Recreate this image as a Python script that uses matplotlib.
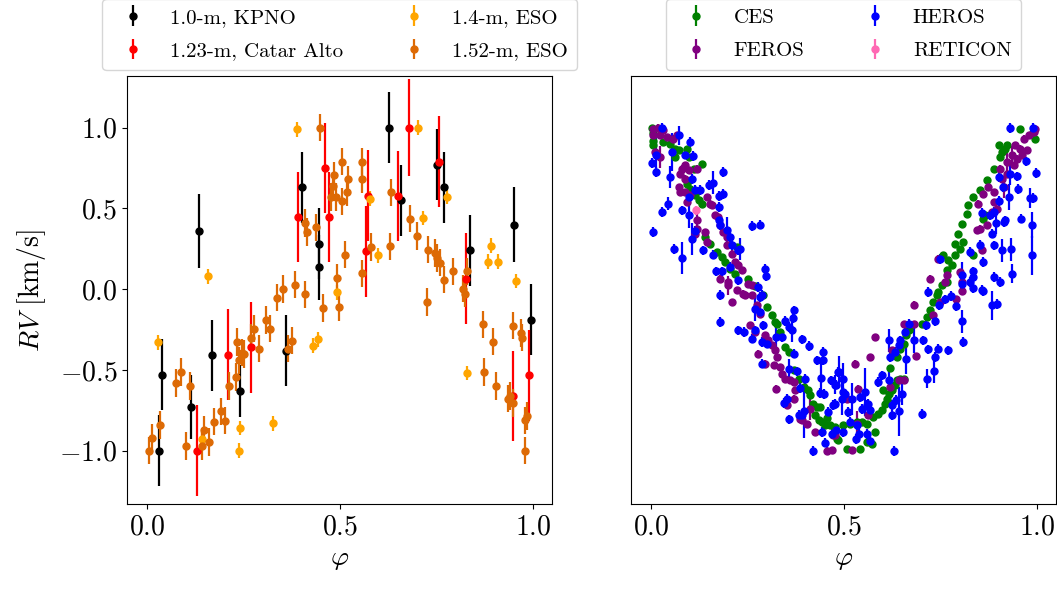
import numpy as np
import matplotlib
matplotlib.use("Agg")
import matplotlib.pyplot as plt

plt.rcParams["font.family"] = "serif"
plt.rcParams["font.serif"] = ["cmr10"]
plt.rcParams["mathtext.fontset"] = "cm"
plt.rcParams["axes.formatter.use_mathtext"] = True

# ---- left panel: photometric-era telescopes ----
kpno_phase = [0.032, 0.038, 0.114, 0.134, 0.168, 0.240, 0.360, 0.400, 0.444, 0.444,
              0.627, 0.657, 0.752, 0.768, 0.837, 0.951, 0.995]
kpno_rv = [-1.00, -0.53, -0.73, 0.36, -0.41, -0.63, -0.38, 0.63, 0.28, 0.135,
           1.00, 0.55, 0.77, 0.63, 0.24, 0.40, -0.19]
kpno_err = [0.22, 0.22, 0.20, 0.23, 0.22, 0.16, 0.22, 0.22, 0.22, 0.20,
            0.22, 0.22, 0.22, 0.22, 0.22, 0.23, 0.22]

caha_phase = [0.129, 0.210, 0.269, 0.392, 0.460, 0.472, 0.567, 0.571, 0.649, 0.679,
              0.756, 0.826, 0.949, 0.988]
caha_rv = [-1.00, -0.405, -0.36, 0.447, 0.75, 0.447, 0.234, 0.58, 0.577, 1.00,
           0.79, 0.065, -0.66, -0.534]
caha_err = [0.28, 0.28, 0.28, 0.28, 0.28, 0.28, 0.28, 0.28, 0.28, 0.30,
            0.28, 0.28, 0.28, 0.28]

eso14_phase = [0.028, 0.143, 0.158, 0.238, 0.240, 0.326, 0.389, 0.430, 0.443, 0.491,
               0.578, 0.597, 0.702, 0.714, 0.776, 0.828, 0.883, 0.890, 0.909, 0.955]
eso14_rv = [-0.33, -0.93, 0.08, -1.00, -0.86, -0.83, 0.99, -0.35, -0.31, -0.02,
            0.56, 0.21, 1.00, 0.44, 0.57, -0.52, 0.17, 0.27, 0.17, 0.05]
eso14_err = [0.045] * len(eso14_phase)

eso152_phase = [0.006, 0.012, 0.034, 0.075, 0.088, 0.110, 0.101, 0.141, 0.148, 0.160,
                0.174, 0.192, 0.201, 0.213, 0.230, 0.232, 0.238, 0.245, 0.251, 0.269,
                0.278, 0.291, 0.308, 0.319, 0.337, 0.352, 0.382, 0.410, 0.455, 0.375,
                0.366, 0.498, 0.448, 0.483, 0.481, 0.477, 0.489, 0.408, 0.415, 0.437,
                0.493, 0.506, 0.557, 0.557, 0.521, 0.518, 0.506, 0.632, 0.681, 0.698,
                0.727, 0.746, 0.752, 0.758, 0.770, 0.792, 0.828, 0.818, 0.513, 0.580,
                0.628, 0.557, 0.726, 0.823, 0.871, 0.897, 0.948, 0.969, 0.971, 0.873,
                0.903, 0.934, 0.940, 0.947, 0.980, 0.985, 0.978]
eso152_rv = [-1.00, -0.92, -0.84, -0.58, -0.513, -0.598, -0.97, -0.97, -0.87, -0.946,
             -0.82, -0.757, -0.814, -0.598, -0.544, -0.327, -0.44, -0.393, -0.40, -0.30,
             -0.245, -0.368, -0.19, -0.245, -0.053, 0.00, 0.028, -0.032, -0.116, -0.319,
             -0.368, -0.113, 1.00, 0.705, 0.64, 0.57, 0.57, 0.41, 0.354, 0.383,
             0.071, 0.79, 0.79, 0.68, 0.68, 0.60, 0.544, 0.60, 0.436, 0.33,
             0.245, 0.224, 0.193, 0.164, 0.059, 0.11, 0.11, 0.003, 0.214, 0.261,
             0.265, 0.098, -0.08, -0.028, -0.218, -0.325, -0.226, -0.271, -0.30, -0.513,
             -0.598, -0.678, -0.66, -0.705, -0.812, -0.785, -1.00]
eso152_err = [0.085] * len(eso152_phase)

# ---- right panel: spectrograph data ----
ces_phase = [0.002, 0.006, 0.004, 0.004, 0.032, 0.049, 0.062, 0.071, 0.062, 0.092,
             0.097, 0.110, 0.131, 0.092, 0.101, 0.114, 0.123, 0.131, 0.140, 0.153,
             0.170, 0.183, 0.192, 0.205, 0.218, 0.222, 0.250, 0.270, 0.291, 0.300,
             0.313, 0.321, 0.326, 0.334, 0.347, 0.356, 0.369, 0.382, 0.395, 0.407,
             0.412, 0.420, 0.429, 0.438, 0.425, 0.434, 0.442, 0.451, 0.464, 0.477,
             0.481, 0.455, 0.498, 0.516, 0.533, 0.546, 0.559, 0.576, 0.580, 0.559,
             0.541, 0.507, 0.485, 0.572, 0.589, 0.598, 0.606, 0.611, 0.615, 0.602,
             0.624, 0.632, 0.637, 0.645, 0.654, 0.619, 0.637, 0.645, 0.654, 0.661,
             0.667, 0.701, 0.714, 0.723, 0.731, 0.740, 0.744, 0.753, 0.766, 0.766,
             0.779, 0.788, 0.801, 0.809, 0.788, 0.796, 0.805, 0.818, 0.822, 0.835,
             0.852, 0.861, 0.870, 0.887, 0.904, 0.909, 0.917, 0.900, 0.922, 0.956,
             0.995, 0.986, 0.757, 0.770, 0.835, 0.865]
ces_rv = [1.00, 0.97, 0.92, 0.89, 0.91, 0.90, 0.87, 0.864, 0.82, 0.87,
          0.82, 0.746, 0.777, 0.653, 0.622, 0.581, 0.55, 0.53, 0.323, 0.282,
          0.23, 0.20, 0.168, 0.127, 0.096, 0.261, 0.06, 0.02, -0.038, -0.11,
          -0.162, -0.203, -0.214, -0.265, -0.358, -0.389, -0.503, -0.554, -0.606, -0.626,
          -0.657, -0.709, -0.729, -0.729, -0.781, -0.812, -0.822, -0.843, -0.843, -0.853,
          -0.926, -0.80, -0.843, -0.833, -0.822, -0.822, -0.833, -0.791, -0.884, -0.946,
          -0.988, -0.988, -0.936, -0.957, -0.771, -0.75, -0.709, -0.678, -0.647, -0.626,
          -0.626, -0.595, -0.565, -0.554, -0.554, -0.488, -0.42, -0.368, -0.337, -0.286,
          -0.255, -0.214, -0.172, -0.131, -0.079, -0.038, -0.017, 0.024, 0.045, 0.117,
          0.147, 0.21, 0.25, 0.292, 0.282, 0.344, 0.406, 0.467, 0.519, 0.571,
          0.612, 0.437, 0.674, 0.746, 0.818, 0.85, 0.87, 0.89, 0.89, 0.994,
          0.932, 0.963, 0.21, 0.178, 0.21, 0.457]
ces_err = [0.01] * len(ces_phase)

feros_phase = [0.006, 0.019, 0.032, 0.006, 0.023, 0.041, 0.058, 0.067, 0.010, 0.023,
               0.079, 0.075, 0.088, 0.097, 0.118, 0.088, 0.071, 0.075, 0.088, 0.092,
               0.101, 0.144, 0.153, 0.157, 0.166, 0.174, 0.118, 0.118, 0.114, 0.140,
               0.144, 0.179, 0.187, 0.196, 0.196, 0.209, 0.218, 0.226, 0.235, 0.179,
               0.200, 0.222, 0.244, 0.261, 0.261, 0.200, 0.209, 0.239, 0.252, 0.274,
               0.283, 0.256, 0.270, 0.295, 0.304, 0.313, 0.321, 0.326, 0.278, 0.295,
               0.319, 0.334, 0.339, 0.347, 0.360, 0.369, 0.373, 0.369, 0.352, 0.323,
               0.386, 0.390, 0.403, 0.412, 0.425, 0.455, 0.468, 0.472, 0.477, 0.507,
               0.520, 0.533, 0.537, 0.563, 0.567, 0.580, 0.528, 0.619, 0.641, 0.654,
               0.624, 0.654, 0.680, 0.687, 0.682, 0.731, 0.749, 0.762, 0.790, 0.805,
               0.723, 0.744, 0.766, 0.805, 0.801, 0.857, 0.844, 0.852, 0.870, 0.848,
               0.861, 0.874, 0.887, 0.887, 0.883, 0.896, 0.904, 0.909, 0.913, 0.922,
               0.935, 0.943, 0.956, 0.948, 0.960, 0.973, 0.978, 0.991, 0.995, 0.965,
               0.939, 0.922]
feros_rv = [0.994, 1.00, 0.983, 0.952, 0.952, 0.942, 0.932, 0.952, 0.85, 0.818,
            0.746, 0.715, 0.767, 0.736, 0.746, 0.684, 0.633, 0.602, 0.602, 0.54,
            0.581, 0.571, 0.53, 0.519, 0.457, 0.447, 0.426, 0.375, 0.344, 0.354,
            0.292, 0.395, 0.354, 0.323, 0.271, 0.22, 0.168, 0.147, 0.116, 0.065,
            0.045, -0.007, -0.038, -0.038, 0.024, 0.024, -0.079, -0.028, 0.034, -0.10,
            -0.152, -0.224, -0.265, -0.286, -0.317, -0.348, -0.379, -0.42, -0.399, -0.461,
            -0.472, -0.482, -0.523, -0.554, -0.565, -0.575, -0.626, -0.678, -0.719, -0.616,
            -0.802, -0.812, -0.833, -0.74, -0.884, -1.00, -0.998, -0.905, -0.905, -0.678,
            -0.998, -0.833, -0.616, -0.781, -0.42, -0.296, -0.461, -0.606, -0.565, -0.565,
            -0.379, -0.214, -0.214, -0.414, -0.096, -0.162, -0.079, 0.045, -0.063, -0.013,
            0.065, 0.189, 0.085, 0.045, 0.106, 0.24, 0.364, 0.375, 0.395, 0.53,
            0.591, 0.633, 0.602, 0.54, 0.478, 0.498, 0.746, 0.684, 0.633, 0.788,
            0.829, 0.89, 0.87, 0.808, 0.829, 0.86, 0.952, 0.973, 0.994, 0.932,
            0.767, 0.715]
feros_err = [0.02, 0.02, 0.02, 0.02, 0.02, 0.02, 0.02, 0.02, 0.02, 0.07,
             0.02, 0.02, 0.02, 0.02, 0.02, 0.02, 0.02, 0.02, 0.02, 0.02,
             0.02, 0.02, 0.02, 0.02, 0.02, 0.02, 0.05, 0.02, 0.02, 0.02,
             0.02, 0.02, 0.02, 0.02, 0.02, 0.02, 0.02, 0.02, 0.02, 0.02,
             0.02, 0.02, 0.02, 0.02, 0.02, 0.06, 0.02, 0.02, 0.02, 0.02,
             0.02, 0.02, 0.02, 0.02, 0.02, 0.02, 0.02, 0.02, 0.02, 0.02,
             0.02, 0.02, 0.02, 0.02, 0.02, 0.02, 0.02, 0.02, 0.02, 0.02,
             0.02, 0.02, 0.02, 0.07, 0.02, 0.02, 0.02, 0.02, 0.02, 0.02,
             0.02, 0.08, 0.02, 0.02, 0.02, 0.02, 0.02, 0.02, 0.02, 0.02,
             0.02, 0.02, 0.02, 0.02, 0.02, 0.02, 0.02, 0.02, 0.02, 0.02,
             0.02, 0.02, 0.02, 0.02, 0.02, 0.02, 0.02, 0.02, 0.02, 0.02,
             0.02, 0.02, 0.02, 0.02, 0.02, 0.02, 0.02, 0.02, 0.07, 0.06,
             0.06, 0.02, 0.02, 0.02, 0.02, 0.02, 0.02, 0.02, 0.02, 0.02,
             0.02, 0.02]

heros_phase = [0.028, 0.073, 0.101, 0.013, 0.002, 0.013, 0.054, 0.088, 0.108, 0.049,
               0.045, 0.028, 0.006, 0.079, 0.097, 0.097, 0.105, 0.114, 0.127, 0.149,
               0.161, 0.187, 0.177, 0.186, 0.177, 0.177, 0.179, 0.196, 0.205, 0.209,
               0.231, 0.226, 0.261, 0.282, 0.114, 0.105, 0.060, 0.081, 0.135, 0.161,
               0.295, 0.297, 0.168, 0.183, 0.205, 0.224, 0.179, 0.278, 0.287, 0.179,
               0.226, 0.241, 0.261, 0.269, 0.269, 0.282, 0.282, 0.291, 0.287, 0.300,
               0.287, 0.324, 0.339, 0.347, 0.356, 0.364, 0.369, 0.367, 0.390, 0.369,
               0.356, 0.378, 0.410, 0.429, 0.445, 0.446, 0.440, 0.465, 0.479, 0.438,
               0.448, 0.485, 0.399, 0.386, 0.352, 0.345, 0.397, 0.382, 0.390, 0.358,
               0.459, 0.472, 0.442, 0.451, 0.419, 0.468, 0.479, 0.477, 0.477, 0.488,
               0.498, 0.498, 0.503, 0.494, 0.511, 0.520, 0.514, 0.541, 0.554, 0.559,
               0.567, 0.563, 0.546, 0.533, 0.539, 0.531, 0.559, 0.566, 0.498, 0.628,
               0.589, 0.598, 0.615, 0.624, 0.624, 0.641, 0.635, 0.649, 0.619, 0.632,
               0.641, 0.645, 0.661, 0.615, 0.658, 0.667, 0.680, 0.701, 0.704, 0.712,
               0.718, 0.716, 0.714, 0.734, 0.736, 0.743, 0.736, 0.747, 0.762, 0.768,
               0.776, 0.790, 0.805, 0.809, 0.805, 0.834, 0.861, 0.896, 0.883, 0.904,
               0.930, 0.988, 0.971, 0.997, 0.949, 0.930, 0.900, 0.911, 0.950, 0.926,
               0.902, 0.982, 0.990, 0.857, 0.878, 0.887, 0.913, 0.917, 0.894, 0.959,
               0.986, 0.883, 0.852, 0.826, 0.887, 0.909, 0.932, 0.986, 0.859, 0.835,
               0.833, 0.887, 0.934, 0.805, 0.749, 0.826, 0.857]
heros_rv = [1.00, 0.952, 0.911, 0.833, 0.783, 0.725, 0.85, 0.833, 0.825, 0.695,
            0.53, 0.478, 0.354, 0.488, 0.571, 0.457, 0.684, 0.612, 0.612, 0.647,
            0.659, 0.725, 0.577, 0.591, 0.509, 0.426, 0.395, 0.364, 0.323, 0.271,
            0.25, 0.24, 0.391, 0.40, 0.36, 0.309, 0.25, 0.193, 0.24, 0.214,
            0.127, 0.082, 0.11, 0.11, 0.137, 0.055, -0.034, 0.014, -0.038, -0.203,
            -0.255, -0.265, -0.306, -0.255, -0.125, -0.141, -0.048, -0.224, -0.327, -0.337,
            -0.461, -0.296, -0.296, -0.199, -0.234, -0.255, -0.131, -0.178, -0.311, -0.399,
            -0.492, -0.509, -0.352, -0.441, -0.389, -0.441, -0.55, -0.565, -0.591, -0.641,
            -0.647, -0.513, -0.558, -0.612, -0.678, -0.703, -0.754, -0.781, -0.781, -0.806,
            -0.76, -0.719, -0.884, -0.95, -1.00, -0.895, -0.874, -0.709, -0.591, -0.513,
            -0.554, -0.637, -0.647, -0.678, -0.76, -0.678, -0.822, -0.668, -0.637, -0.719,
            -0.75, -0.709, -0.74, -0.843, -0.895, -0.926, -0.895, -0.942, -0.884, -1.00,
            -0.575, -0.534, -0.565, -0.719, -0.781, -0.757, -0.688, -0.647, -0.42, -0.389,
            -0.348, -0.317, -0.435, -0.317, -0.265, -0.214, -0.317, -0.771, -0.317, -0.224,
            -0.373, -0.017, -0.554, -0.509, -0.42, -0.368, -0.199, -0.096, -0.063, -0.379,
            -0.042, -0.104, -0.199, -0.327, 0.034, 0.007, -0.014, -0.09, -0.10, 0.045,
            0.998, 1.00, 0.791, 0.719, 0.698, 0.715, 0.695, 0.633, 0.622, 0.571,
            0.544, 0.565, 0.565, 0.472, 0.461, 0.478, 0.416, 0.426, 0.412, 0.437,
            0.395, 0.344, 0.276, 0.23, 0.271, 0.24, 0.246, 0.209, 0.168, 0.11,
            0.075, 0.075, 0.096, 0.09, 0.189, 0.045, -0.007]
heros_err = [0.03, 0.06, 0.03, 0.10, 0.03, 0.03, 0.12, 0.03, 0.03, 0.07,
             0.04, 0.03, 0.03, 0.03, 0.03, 0.08, 0.03, 0.03, 0.03, 0.03,
             0.07, 0.03, 0.03, 0.03, 0.03, 0.03, 0.03, 0.08, 0.03, 0.03,
             0.07, 0.03, 0.03, 0.03, 0.03, 0.10, 0.03, 0.10, 0.03, 0.03,
             0.03, 0.03, 0.03, 0.03, 0.03, 0.03, 0.03, 0.03, 0.03, 0.03,
             0.03, 0.03, 0.03, 0.03, 0.07, 0.03, 0.03, 0.03, 0.03, 0.03,
             0.03, 0.08, 0.03, 0.03, 0.03, 0.07, 0.03, 0.03, 0.03, 0.03,
             0.06, 0.03, 0.03, 0.03, 0.03, 0.03, 0.09, 0.03, 0.03, 0.03,
             0.03, 0.03, 0.03, 0.03, 0.03, 0.03, 0.17, 0.03, 0.03, 0.03,
             0.03, 0.03, 0.03, 0.03, 0.03, 0.03, 0.03, 0.03, 0.06, 0.10,
             0.10, 0.03, 0.03, 0.10, 0.03, 0.10, 0.03, 0.03, 0.15, 0.03,
             0.03, 0.03, 0.03, 0.03, 0.03, 0.03, 0.03, 0.03, 0.03, 0.03,
             0.03, 0.03, 0.08, 0.03, 0.03, 0.15, 0.03, 0.07, 0.03, 0.03,
             0.03, 0.03, 0.09, 0.07, 0.03, 0.03, 0.08, 0.03, 0.03, 0.03,
             0.03, 0.03, 0.06, 0.07, 0.03, 0.03, 0.03, 0.03, 0.03, 0.03,
             0.03, 0.03, 0.07, 0.03, 0.03, 0.03, 0.03, 0.03, 0.09, 0.03,
             0.03, 0.03, 0.03, 0.03, 0.03, 0.07, 0.03, 0.03, 0.03, 0.08,
             0.03, 0.06, 0.03, 0.03, 0.03, 0.03, 0.03, 0.03, 0.07, 0.03,
             0.08, 0.03, 0.03, 0.03, 0.03, 0.07, 0.07, 0.12, 0.03, 0.03,
             0.03, 0.03, 0.06, 0.08, 0.03, 0.03, 0.03]

reticon_phase = [0.117]
reticon_rv = [0.488]
reticon_err = [0.03]

fig = plt.figure(figsize=(10.57, 5.89), dpi=100)
ax1 = fig.add_axes([0.1202, 0.1443, 0.4021, 0.7267])
ax2 = fig.add_axes([0.5970, 0.1443, 0.4021, 0.7267])

kw = dict(fmt="o", ms=5, elinewidth=1.6, capsize=0)
ax1.errorbar(kpno_phase, kpno_rv, yerr=kpno_err, color="black", label="1.0-m, KPNO", **kw)
ax1.errorbar(caha_phase, caha_rv, yerr=caha_err, color="red", label="1.23-m, Catar Alto", **kw)
ax1.errorbar(eso14_phase, eso14_rv, yerr=eso14_err, color="orange", label="1.4-m, ESO", **kw)
ax1.errorbar(eso152_phase, eso152_rv, yerr=eso152_err, color="#DD6A05", label="1.52-m, ESO", **kw)

ax2.errorbar(ces_phase, ces_rv, yerr=ces_err, color="green", label="CES", **kw)
ax2.errorbar(feros_phase, feros_rv, yerr=feros_err, color="purple", label="FEROS", **kw)
ax2.errorbar(heros_phase, heros_rv, yerr=heros_err, color="blue", label="HEROS", **kw)
ax2.errorbar(reticon_phase, reticon_rv, yerr=reticon_err, color="hotpink", label="RETICON", **kw)

for ax in (ax1, ax2):
    ax.set_xlim(-0.052, 1.049)
    ax.set_ylim(-1.33, 1.32)
    ax.set_xticks([0.0, 0.5, 1.0])
    ax.tick_params(labelsize=20)
    ax.set_xlabel(r"$\varphi$", fontsize=20)
    ax.legend(loc="lower center", bbox_to_anchor=(0.5, 1.0), ncol=2, fontsize=15,
              labelspacing=0.7, columnspacing=2.4, borderpad=0.45, borderaxespad=0.3)

ax1.set_yticks([-1.0, -0.5, 0.0, 0.5, 1.0])
ax1.set_ylabel(r"$RV$ [km/s]", fontsize=20, labelpad=8)
ax2.set_yticks([])

fig.savefig("out.png", dpi=100)
